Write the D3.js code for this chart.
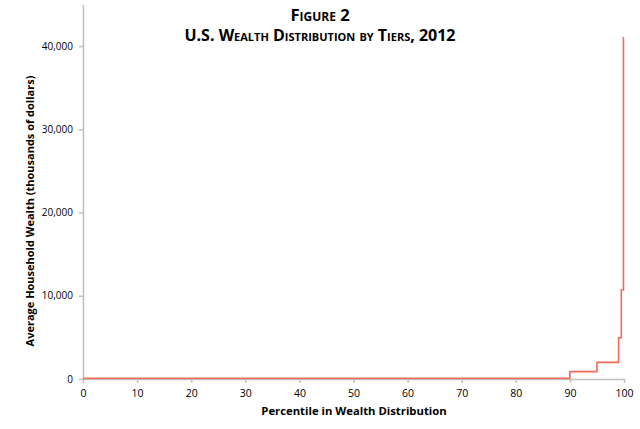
<!DOCTYPE html>
<html><head><meta charset="utf-8">
<script src="https://cdn.jsdelivr.net/npm/d3@7"></script>
<style>
body{margin:0;background:#fff;}
text{font-family:"Open Sans","Liberation Sans",sans-serif;}
</style></head>
<body>
<svg id="c" width="640" height="429"></svg>
<script>
// Percentile tier boundaries and average household wealth (thousands of dollars)
const tierStart = [0, 90, 95, 99, 99.5, 99.9];
const tierEnd   = [90, 95, 99, 99.5, 99.9, 100];
const wealth    = [84, 880, 2000, 4950, 10700, 41000];
const xTicks = [0,10,20,30,40,50,60,70,80,90,100];
const yTicks = [0,10000,20000,30000,40000];

const svg = d3.select("#c");
const x = d3.scaleLinear().domain([0,100]).range([83,624]);
const y = d3.scaleLinear().domain([0,45000]).range([379,4.4]);

// axes
const xa = svg.append("g").attr("transform","translate(0,379)")
  .call(d3.axisBottom(x).tickValues(xTicks).tickSize(4).tickSizeOuter(0).tickFormat(d3.format("d")));
const ya = svg.append("g").attr("transform","translate(83,0)")
  .call(d3.axisLeft(y).tickValues(yTicks).tickSize(4).tickSizeOuter(0).tickFormat(d3.format(",")));
[xa,ya].forEach(a=>{
  a.selectAll("path,line").attr("stroke","#c0c0c0").attr("stroke-width",1.5);
  a.selectAll("text").attr("fill","#000").style("font-size","10.5px");
});
ya.selectAll("text").attr("x",-10).style("font-size","10px");
xa.selectAll("text").attr("y",11);

// step line
const pts = [];
tierStart.forEach((s,i)=>{ pts.push([s,wealth[i]]); pts.push([tierEnd[i],wealth[i]]); });
svg.append("path")
  .attr("d", d3.line().x(d=>x(d[0])).y(d=>y(d[1]))(pts))
  .attr("fill","none").attr("stroke","#f46a55").attr("stroke-width",1.6);

// titles
svg.append("text").attr("x",320).attr("y",21).attr("text-anchor","middle")
  .style("font-weight","bold").style("font-size","16.5px").style("font-variant","small-caps")
  .text("Figure 2");
svg.append("text").attr("x",320).attr("y",41).attr("text-anchor","middle")
  .style("font-weight","bold").style("font-size","16px").style("font-variant","small-caps")
  .text("U.S. Wealth Distribution by Tiers, 2012");
svg.append("text").attr("x",354).attr("y",415).attr("text-anchor","middle")
  .style("font-weight","bold").style("font-size","11.3px")
  .text("Percentile in Wealth Distribution");
svg.append("text").attr("transform","translate(34,211) rotate(-90)").attr("text-anchor","middle")
  .style("font-weight","bold").style("font-size","11px")
  .text("Average Household Wealth (thousands of dollars)");
</script>
</body></html>
